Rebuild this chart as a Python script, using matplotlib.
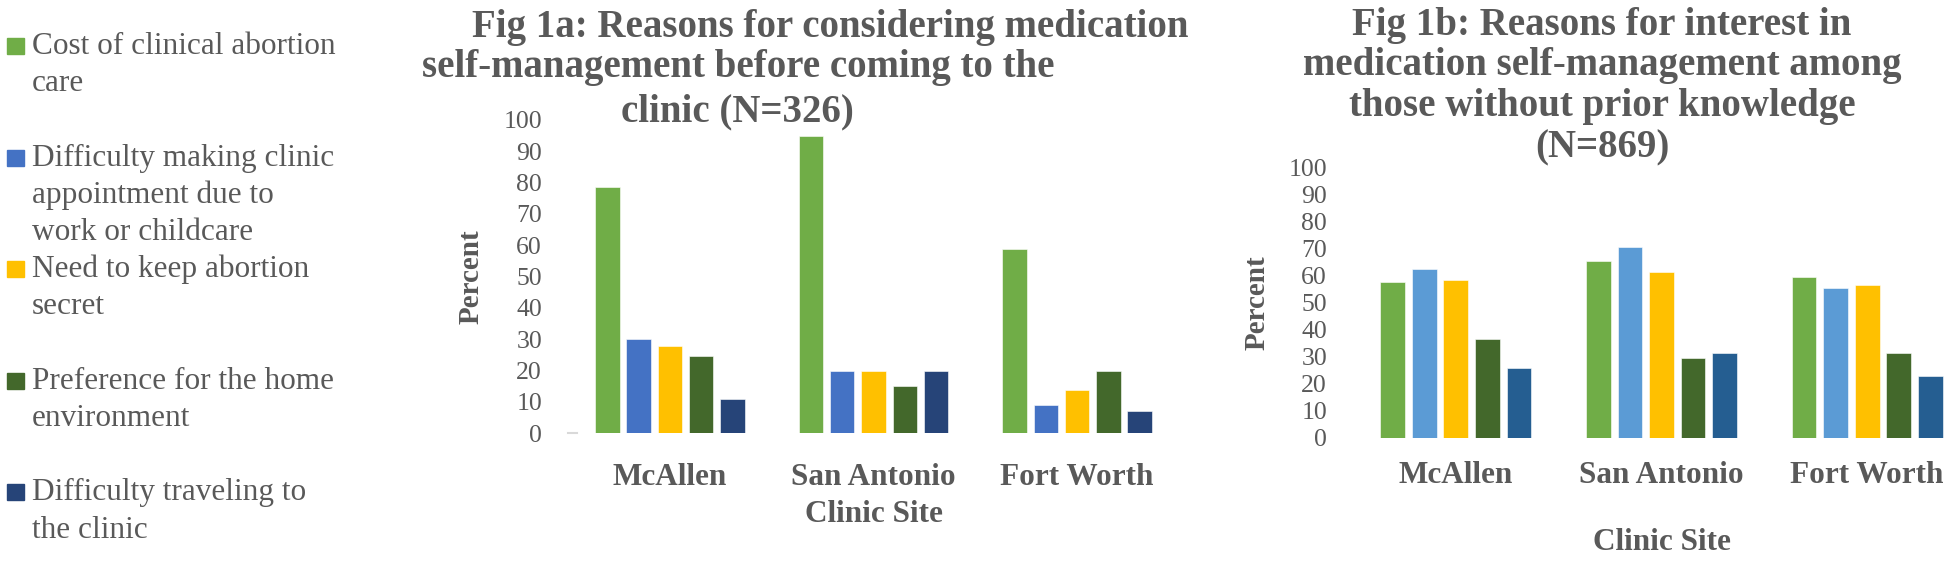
import matplotlib.pyplot as plt
import numpy as np

plt.rcParams['font.family'] = ['Liberation Serif', 'DejaVu Serif']

sites = ['McAllen', 'San Antonio', 'Fort Worth']
reasons = ['Cost of clinical abortion\ncare',
           'Difficulty making clinic\nappointment due to\nwork or childcare',
           'Need to keep abortion\nsecret',
           'Preference for the home\nenvironment',
           'Difficulty traveling to\nthe clinic']

# percent per reason (rows) for McAllen, San Antonio, Fort Worth
fig1a_vals = [[78.7, 94.8, 58.7],
              [30.0, 19.9, 9.0],
              [27.9, 19.9, 13.8],
              [24.7, 15.0, 19.9],
              [10.9, 19.9, 6.9]]
fig1b_vals = [[57.5, 65.3, 59.4],
              [62.2, 70.5, 55.4],
              [58.4, 61.4, 56.5],
              [36.4, 29.5, 31.5],
              [25.7, 31.5, 22.7]]

colors_a = ['#70AD47', '#4472C4', '#FFC000', '#43682B', '#264478']
colors_b = ['#70AD47', '#5B9BD5', '#FFC000', '#43682B', '#255E91']

title_a = ['Fig 1a: Reasons for considering medication',
           'self-management before coming to the',
           'clinic (N=326)']
title_b = ['Fig 1b: Reasons for interest in',
           'medication self-management among',
           'those without prior knowledge',
           '(N=869)']

grey = '#595959'
W, H = 1950, 585
fig = plt.figure(figsize=(19.5, 5.85), dpi=100)

ax1 = fig.add_axes([568 / W, 1 - 433 / H, 611 / W, 313 / H])
ax2 = fig.add_axes([1353 / W, 1 - 438 / H, 617 / W, 271 / H])

ind = np.arange(len(sites))
slot = 0.1535
width = 0.12


def draw(ax, vals, colors, tick_pad, xlab_y, ylab_x):
    for i, v in enumerate(vals):
        ax.bar(ind + (i - 2) * slot, v, width, color=colors[i],
               edgecolor='white', linewidth=0.4)
    ax.set_xlim(-0.5, 2.5)
    ax.set_ylim(0, 100)
    ax.set_yticks(range(0, 101, 10))
    ax.set_xticks(ind)
    ax.set_xticklabels(sites, fontsize=22.5, fontweight='bold', color=grey)
    for lab in ax.get_xticklabels():
        lab.set_va('center')
    ax.tick_params(axis='x', length=0, pad=tick_pad)
    ax.tick_params(axis='y', length=0, pad=18.7, labelsize=18.5, labelcolor=grey)
    for s in ax.spines.values():
        s.set_visible(False)
    ax.set_xlabel('Clinic Site', fontsize=22.5, fontweight='bold', color=grey, va='center')
    ax.xaxis.set_label_coords(0.5, xlab_y)
    ax.set_ylabel('Percent', fontsize=21, fontweight='bold', color=grey, va='center')
    ax.yaxis.set_label_coords(ylab_x, 0.5)


draw(ax1, fig1a_vals, colors_a, 32, -0.259, -0.159)
draw(ax2, fig1b_vals, colors_b, 27, -0.384, -0.156)
# little grey stub at the origin of fig 1a
ax1.plot([-0.5, -0.455], [0, 0], color='#D9D9D9', lw=1.5, clip_on=False)

# titles
for line, (xc, yb) in zip(title_a, [(830, 37), (738, 77), (737, 121)]):
    fig.text(xc / W, 1 - yb / H, line, ha='center', va='baseline',
             fontsize=28, fontweight='bold', color=grey)
for line, yb in zip(title_b, [35, 75, 116, 157]):
    fig.text(1602 / W, 1 - yb / H, line, ha='center', va='baseline',
             fontsize=28, fontweight='bold', color=grey)

# legend drawn by hand, rows on a fixed line grid
row0, row_h = 54, 37.2
row = 0
for lab, col in zip(reasons, colors_a):
    parts = lab.split('\n')
    yb = row0 + row * row_h
    fig.patches.append(plt.Rectangle((7 / W, 1 - yb / H), 17 / W, 16 / H,
                                     transform=fig.transFigure, color=col))
    for j, part in enumerate(parts):
        fig.text(32 / W, 1 - (yb + row_h * j) / H, part, ha='left', va='baseline',
                 fontsize=22.5, color=grey)
    row += len(parts) + (1 if len(parts) < 3 else 0)

fig.savefig('out.png', dpi=100)
